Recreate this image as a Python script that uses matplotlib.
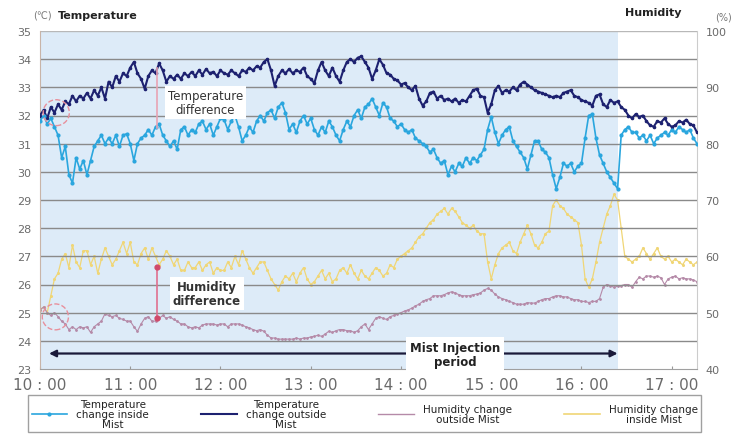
import numpy as np
import matplotlib
matplotlib.use("Agg")
import matplotlib.pyplot as plt
from matplotlib.lines import Line2D
from matplotlib.patches import Ellipse

# ---------------- data (sampled every ~2.4 min from 10:00 to 17:17) ----------------
temp_outside = [
    32.0, 32.2, 31.9, 32.3, 32.1, 32.4, 32.2, 32.5, 32.4, 32.7, 32.5, 32.7, 32.6, 32.8, 32.6, 32.9,
    32.7, 33.0, 32.6, 33.2, 33.0, 33.4, 33.2, 33.5, 33.4, 33.7, 33.9, 33.5, 33.3, 32.95, 33.4, 33.6,
    33.5, 33.85, 33.6, 33.2, 33.4, 33.3, 33.45, 33.3, 33.5, 33.4, 33.55, 33.4, 33.6, 33.45, 33.65, 33.5,
    33.55, 33.4, 33.6, 33.5, 33.45, 33.6, 33.5, 33.4, 33.6, 33.55, 33.7, 33.6, 33.75, 33.7, 33.9, 34.0,
    33.6, 33.05, 33.4, 33.6, 33.5, 33.65, 33.5, 33.6, 33.55, 33.7, 33.4, 33.3, 33.15, 33.6, 33.9, 33.6,
    33.4, 33.7, 33.4, 33.2, 33.6, 33.9, 34.0, 33.9, 34.05, 34.1, 33.9, 33.7, 33.3, 33.6, 34.0, 33.8,
    33.5, 33.45, 33.3, 33.25, 33.1, 33.15, 33.0, 32.9, 33.05, 32.6, 32.35, 32.5, 32.8, 32.85, 32.6, 32.7,
    32.55, 32.6, 32.5, 32.6, 32.45, 32.55, 32.5, 32.7, 32.9, 32.95, 32.7, 32.65, 32.1, 32.4, 32.9, 33.05,
    32.8, 32.9, 32.85, 33.0, 32.9, 33.1, 33.2, 33.1, 33.0, 32.9, 32.85, 32.8, 32.75, 32.7, 32.65, 32.7,
    32.65, 32.8, 32.85, 32.9, 32.7, 32.65, 32.55, 32.5, 32.45, 32.35, 32.7, 32.75, 32.4, 32.3, 32.55, 32.45,
    32.5, 32.3, 32.2, 32.0, 31.9, 32.05, 31.95, 32.0, 31.8, 31.65, 31.6, 31.8, 31.75, 31.9, 31.7, 31.6,
    31.65, 31.8, 31.75, 31.85, 31.7, 31.65, 31.4,
]

temp_inside = [
    31.8, 32.0, 31.7, 31.9, 31.6, 31.3, 30.5, 30.9, 29.9, 29.6, 30.5, 30.1, 30.4, 29.9, 30.4, 30.9,
    31.1, 31.3, 31.0, 31.2, 31.0, 31.3, 30.9, 31.3, 31.35, 31.0, 30.4, 31.0, 31.2, 31.3, 31.5, 31.3,
    31.6, 31.7, 31.3, 31.1, 30.9, 31.1, 30.8, 31.5, 31.6, 31.3, 31.5, 31.4, 31.7, 31.8, 31.5, 31.7,
    31.3, 31.6, 31.9, 31.85, 31.5, 31.8, 32.0, 31.6, 31.1, 31.3, 31.6, 31.4, 31.8, 32.0, 31.8, 32.1,
    32.2, 31.9, 32.3, 32.45, 32.1, 31.5, 31.7, 31.4, 31.8, 32.0, 31.7, 31.9, 31.5, 31.3, 31.6, 31.4,
    31.8, 31.6, 31.3, 31.1, 31.5, 31.8, 31.6, 32.0, 32.2, 31.9, 32.3, 32.4, 32.6, 32.3, 32.0, 32.45,
    32.3, 31.9, 31.8, 31.6, 31.7, 31.5, 31.4, 31.5, 31.2, 31.1, 31.0, 30.9, 30.7, 30.8, 30.5, 30.3,
    30.4, 29.9, 30.2, 30.0, 30.3, 30.2, 30.5, 30.3, 30.5, 30.4, 30.6, 30.8, 31.5, 31.95, 31.4, 31.0,
    31.3, 31.5, 31.6, 31.1, 30.9, 30.7, 30.5, 30.1, 30.6, 31.1, 31.1, 30.8, 30.7, 30.5, 29.9, 29.4,
    29.8, 30.3, 30.2, 30.3, 30.0, 30.2, 30.3, 31.2, 32.0, 32.05, 31.2, 30.6, 30.3, 30.0, 29.8, 29.6,
    29.4, 31.3, 31.5, 31.6, 31.4, 31.4, 31.2, 31.3, 31.1, 31.3, 31.0, 31.2, 31.3, 31.4, 31.3, 31.5,
    31.4, 31.6, 31.5, 31.4, 31.5, 31.2, 31.0,
]

hum_inside = [
    50.5, 51.0, 50.0, 53.0, 56.0, 57.0, 59.5, 60.5, 58.0, 62.0, 59.0, 58.0, 61.0, 61.0, 58.5, 60.0,
    57.0, 59.5, 61.5, 60.0, 58.5, 59.5, 61.0, 62.5, 60.5, 62.5, 59.0, 58.5, 60.5, 61.5, 59.5, 61.5,
    60.0, 58.5, 59.5, 61.0, 60.0, 58.5, 59.5, 57.5, 57.5, 59.0, 58.0, 58.0, 59.0, 57.5, 58.5, 59.0,
    57.0, 58.0, 57.5, 57.5, 59.0, 58.0, 60.0, 58.5, 61.0, 59.5, 58.0, 57.0, 58.0, 59.0, 59.0, 57.5,
    56.0, 55.0, 54.0, 55.5, 56.5, 56.0, 57.0, 55.5, 57.0, 58.0, 56.0, 55.0, 55.5, 56.5, 57.5, 56.0,
    57.0, 55.5, 56.0, 57.5, 58.0, 57.0, 58.5, 57.0, 56.0, 57.5, 56.5, 56.0, 57.0, 58.0, 57.5, 56.5,
    57.0, 58.5, 58.0, 59.5, 60.0, 60.5, 61.0, 61.5, 62.5, 63.5, 64.0, 65.0, 66.0, 66.5, 67.5, 68.0,
    68.5, 67.5, 68.5, 68.0, 67.0, 66.0, 65.5, 65.0, 65.5, 64.5, 64.0, 64.0, 59.0, 56.0, 58.5, 60.5,
    61.5, 62.0, 62.5, 61.0, 60.5, 62.5, 64.0, 65.5, 64.0, 62.0, 61.5, 62.5, 64.0, 64.5, 69.0, 70.0,
    69.0, 68.5, 67.5, 67.0, 66.5, 66.0, 62.0, 56.0, 54.5, 56.0, 59.0, 62.5, 65.0, 67.5, 69.0, 71.0,
    70.0, 65.0, 60.0, 59.5, 59.0, 59.5, 60.0, 61.5, 60.5, 59.5, 60.5, 61.5, 60.0, 59.5, 60.0, 59.0,
    59.5, 59.0, 58.5, 59.5, 59.0, 58.5, 59.0,
]

hum_outside = [
    50.5, 51.0, 50.0, 49.5, 50.0, 49.3, 48.5, 48.0, 47.0, 47.5, 47.0, 47.5, 47.3, 47.5, 46.5, 47.5,
    48.0, 48.5, 49.8, 49.5, 49.3, 49.5, 49.0, 48.8, 48.5, 48.5, 47.5, 46.7, 48.0, 49.0, 49.3, 48.5,
    48.5, 49.0, 49.5, 49.0, 49.3, 48.8, 48.5, 48.0, 48.0, 47.5, 47.3, 47.5, 47.3, 47.8, 48.0, 48.0,
    48.0, 47.8, 48.0, 48.0, 47.5, 48.0, 48.0, 48.0, 47.8, 47.5, 47.3, 47.0, 46.8, 47.0, 46.7, 46.0,
    45.5, 45.5, 45.3, 45.3, 45.3, 45.3, 45.3, 45.5, 45.3, 45.5, 45.5, 45.7, 45.8, 46.0, 45.8, 46.2,
    46.7, 46.5, 46.8, 47.0, 47.0, 46.8, 46.8, 46.5, 46.8, 47.5, 48.0, 47.0, 48.0, 49.0, 49.3, 49.0,
    48.8, 49.3, 49.5, 49.8, 50.0, 50.3, 50.5, 50.8, 51.2, 51.5, 52.0, 52.3, 52.5, 53.0, 53.0, 53.0,
    53.2, 53.5, 53.7, 53.5, 53.2, 53.0, 53.0, 53.0, 53.2, 53.3, 53.5, 54.0, 54.3, 54.0, 53.3, 52.8,
    52.5, 52.3, 52.0, 51.8, 51.5, 51.5, 51.5, 51.8, 51.7, 51.7, 52.0, 52.3, 52.5, 52.5, 52.8, 53.0,
    53.0, 52.8, 52.8, 52.5, 52.3, 52.3, 52.0, 52.0, 51.8, 52.0, 52.0, 52.5, 54.5, 55.0, 54.8, 54.5,
    54.7, 54.8, 55.0, 55.0, 54.5, 55.5, 56.3, 56.0, 56.5, 56.5, 56.3, 56.5, 56.2, 55.0, 56.0, 56.3,
    56.5, 56.0, 56.2, 56.0, 56.0, 55.8, 55.5,
]

t_start, t_end = 10.0, 17.28          # hours
mist_start, mist_end = 10.0, 16.4     # mist injection period (hours)

x_ticks = [10, 11, 12, 13, 14, 15, 16, 17]
x_tick_labels = ["10 : 00", "11 : 00", "12 : 00", "13 : 00", "14 : 00", "15 : 00", "16 : 00", "17 : 00"]
temp_ticks = list(range(23, 36))
hum_ticks = [40, 50, 60, 70, 80, 90, 100]

legend_labels = ["Temperature\nchange inside\nMist", "Temperature\nchange outside\nMist",
                 "Humidity change\noutside Mist", "Humidity change\ninside Mist"]

def times(vals):
    return np.linspace(t_start, t_end, len(vals))

# ---------------- styling ----------------
C_IN = "#2aa6de"
C_OUT = "#1d2170"
C_HOUT = "#b58aa8"
C_HIN = "#f0d676"
C_SHADE = "#ddebf8"
C_GRID = "#8a8a8a"
C_TXT = "#6a6a6a"

fig = plt.figure(figsize=(7.37, 4.39), dpi=100)
fig.patch.set_facecolor("white")
ax = fig.add_axes([40/737, 1-370/439, (697-40)/737, (370-32)/439])
ax2 = ax.twinx()

# humidity axis in back, temperature axis in front
ax2.set_zorder(1)
ax.set_zorder(2)
ax.patch.set_visible(False)
ax2.patch.set_facecolor("white")

ax.set_xlim(t_start, t_end)
ax.set_ylim(23, 35)
ax2.set_ylim(40, 100)

ax2.axvspan(mist_start, mist_end, color=C_SHADE, zorder=0, lw=0)
for tv in temp_ticks[1:]:
    ax.axhline(tv, color=C_GRID if tv < 35 else "#b8b8b8", lw=1.0, zorder=0.5)

# humidity series
ax2.plot(times(hum_inside), hum_inside, color=C_HIN, lw=0.9, marker='o', ms=1.2, zorder=2)
ax2.plot(times(hum_outside), hum_outside, color=C_HOUT, lw=0.8, marker='o', ms=1.0, zorder=2)

# temperature series
ax.plot(times(temp_outside), temp_outside, color=C_OUT, lw=1.5, marker='o', ms=1.6, zorder=3)
ax.plot(times(temp_inside), temp_inside, color=C_IN, lw=1.2, marker='o', ms=2.0, zorder=3)

# ---------------- axes formatting ----------------
ax.set_xticks(x_ticks)
ax.set_xticklabels(x_tick_labels, fontsize=11, color=C_TXT)
ax.set_yticks(temp_ticks)
ax.set_yticklabels([str(v) for v in temp_ticks], fontsize=8, color=C_TXT)
ax2.set_yticks(hum_ticks)
ax2.set_yticklabels([str(v) for v in hum_ticks], fontsize=8, color=C_TXT)
ax.tick_params(axis='x', direction='in', length=2, color="#999999", pad=6)
ax.tick_params(axis='y', length=0, pad=6)
ax2.tick_params(axis='y', length=0, pad=6)
for a in (ax, ax2):
    for s in a.spines.values():
        s.set_visible(False)
ax.spines['left'].set_visible(True)
ax.spines['left'].set_color("#c8b4a8")
ax.spines['bottom'].set_visible(True)
ax.spines['bottom'].set_color("#a0a0a0")
ax2.spines['right'].set_visible(True)
ax2.spines['right'].set_color("#cccccc")

# ---------------- annotations ----------------
# temperature difference
ax.plot([11.3, 11.3], [31.55, 33.7], color="#e8a4b4", lw=1.2, zorder=4)
ax.text(11.83, 32.45, "Temperature\ndifference", ha='center', va='center', fontsize=8.5,
        color="#333333", zorder=5, linespacing=1.1,
        bbox=dict(facecolor='white', edgecolor='none', pad=2))
# humidity difference
ax.plot([11.3, 11.3], [24.8, 26.63], color="#e07090", lw=1.2, zorder=4)
ax.plot([11.3, 11.3], [24.8, 26.63], 'o', color="#d04a6a", ms=3.5, zorder=4)
ax.text(11.85, 25.67, "Humidity\ndifference", ha='center', va='center', fontsize=8.5,
        color="#333333", fontweight='bold', zorder=5, linespacing=1.1,
        bbox=dict(facecolor='white', edgecolor='none', pad=2))
# circles at start
for (cx, cy) in [(10.18, 32.1), (10.17, 24.85)]:
    ax.add_patch(Ellipse((cx, cy), 0.29, 0.92, fill=False, edgecolor="#e8909c",
                         lw=1.0, ls='--', zorder=5))
# mist injection period arrow
ax.annotate("", xy=(10.1, 23.55), xytext=(mist_end, 23.55),
            arrowprops=dict(arrowstyle='<|-|>', color="#1a1a3a", lw=1.6,
                            mutation_scale=10, shrinkA=0, shrinkB=0), zorder=5)
ax.text(14.6, 23.5, "Mist Injection\nperiod", ha='center', va='center', fontsize=8.5,
        color="#222222", fontweight='bold', zorder=6, linespacing=1.1,
        bbox=dict(facecolor='white', edgecolor='none', pad=3))

# ---------------- header labels ----------------
fig.text(33/737, 1-16/439, "(℃)", fontsize=7, color="#777777", va='center', ha='left')
fig.text(58/737, 1-16/439, "Temperature", fontsize=8, color="#222222", fontweight='bold',
         va='center', ha='left')
fig.text(625/737, 1-13/439, "Humidity", fontsize=8, color="#222222", fontweight='bold',
         va='center', ha='left')
fig.text(715/737, 1-17/439, "(%)", fontsize=7, color="#777777", va='center', ha='left')

# ---------------- legend ----------------
handles = [
    Line2D([], [], color=C_IN, lw=1.2, marker='o', ms=2),
    Line2D([], [], color=C_OUT, lw=1.5),
    Line2D([], [], color=C_HOUT, lw=1.0),
    Line2D([], [], color=C_HIN, lw=1.2),
]
leg = fig.legend(handles, legend_labels, loc='upper center', bbox_to_anchor=(0.495, 0.097),
                 ncol=4, fontsize=7.5, frameon=True, fancybox=False, edgecolor="#888888",
                 handlelength=3.4, columnspacing=5.0, handletextpad=0.9, borderpad=0.3,
                 labelspacing=0.2, borderaxespad=0)
leg.get_frame().set_linewidth(1.0)
for txt in leg.get_texts():
    txt.set_multialignment('center')
    txt.set_color("#222222")
    txt.set_linespacing(1.0)

fig.savefig("out.png", dpi=100)
